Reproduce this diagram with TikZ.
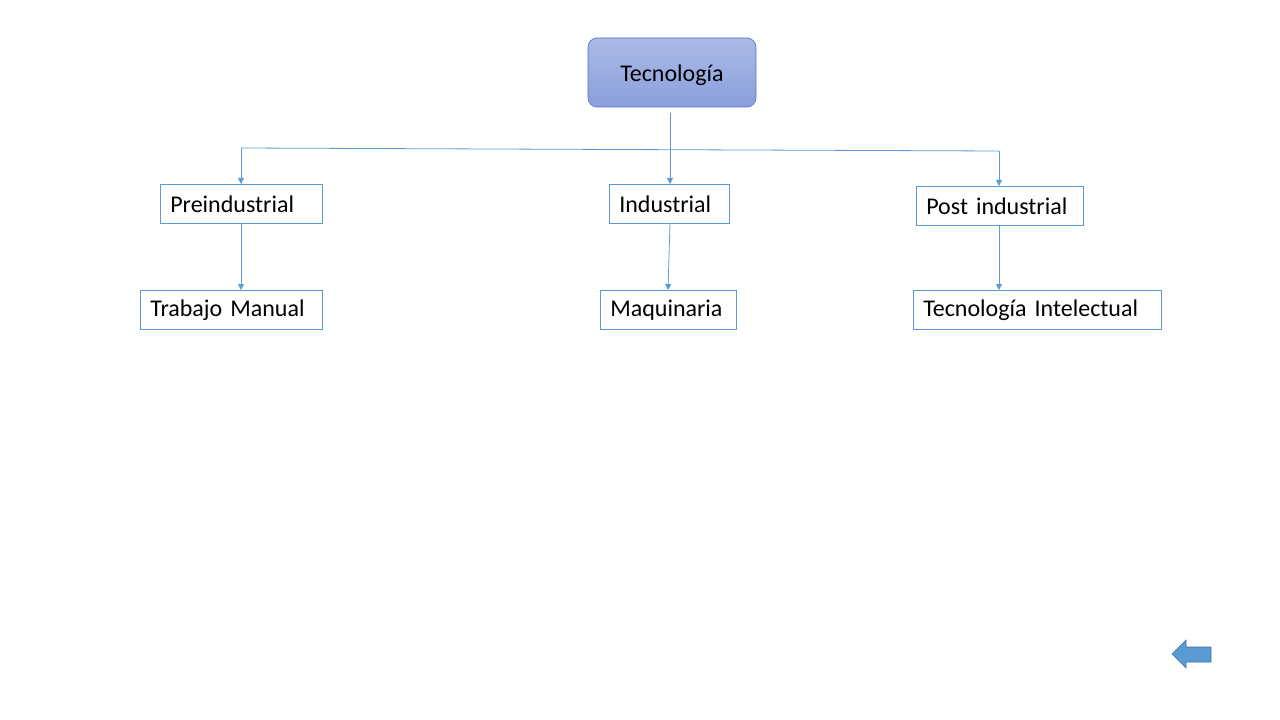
\documentclass[tikz,border=0pt]{standalone}
\usepackage{fontspec}
\setmainfont[WordSpace={0.8,0,0}]{Carlito}
\usetikzlibrary{arrows.meta,positioning,shadings}
\definecolor{lineblue}{HTML}{5B9BD5}
\definecolor{darkblue}{HTML}{41719C}
\definecolor{topblue}{HTML}{ABB9E5}
\definecolor{botblue}{HTML}{8AA0DC}
\definecolor{roundborder}{HTML}{4A72C8}
\tikzset{
  box/.style={draw=lineblue, line width=0.6bp, fill=white, anchor=north west,
    inner xsep=10bp, inner ysep=0bp, align=left, font=\fontsize{24bp}{28bp}\selectfont,
    minimum height=39bp},
  conn/.style={draw=lineblue, line width=0.8bp, -{Triangle[length=6bp,width=6bp]}},
  plain/.style={draw=lineblue, line width=0.8bp},
}
\begin{document}
\begin{tikzpicture}[x=1bp,y=-1bp]
\useasboundingbox (0,0) rectangle (1280,720);
\node[draw=roundborder, line width=0.6bp, rounded corners=9bp, top color=topblue, bottom color=botblue,
  minimum width=168bp, minimum height=69bp, text height=20bp, text depth=1bp, inner ysep=0bp,
  font=\fontsize{24bp}{28bp}\selectfont] (tec) at (672,72.5) {Tecnología};
\node[box, text width=142bp] (pre) at (160,184) {Preindustrial};
\node[box, text width=100bp] (ind) at (609,184) {Industrial};
\node[box, text width=147bp] (post) at (916,186) {Post industrial};
\node[box, text width=162bp] (tra) at (140,290) {Trabajo Manual};
\node[box, text width=116bp] (maq) at (600,290) {Maquinaria};
\node[box, text width=228bp] (tint) at (913,290) {Tecnología Intelectual};
\coordinate (top) at (670,113);
\coordinate (hl) at (241,148);
\coordinate (hr) at (999,151);
\draw[conn] (top) -- (670,184);
\draw[plain] (hl) -- (hr);
\draw[conn] (hl) -- (pre.north -| hl);
\draw[conn] (hr) -- (post.north -| hr);
\draw[conn] (pre.south -| hl) -- (tra.north -| hl);
\draw[conn] (670,223) -- (668,290);
\draw[conn] (post.south -| hr) -- (tint.north -| hr);
% back arrow
\draw[fill=lineblue, draw=darkblue, line width=0.6bp]
  (1211,647) -- (1186,647) -- (1186,640) -- (1172,654) -- (1186,668) -- (1186,662) -- (1211,662) -- cycle;
\end{tikzpicture}
\end{document}
